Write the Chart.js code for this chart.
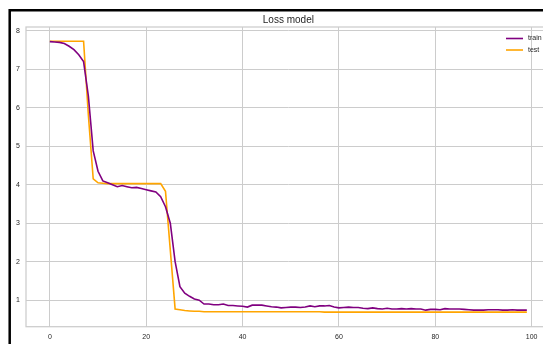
<!DOCTYPE html>
<html>
<head>
<meta charset="utf-8">
<style>
  html, body { margin: 0; padding: 0; background: #ffffff; overflow: hidden; width: 543px; height: 344px; }
  #wrap { position: absolute; left: 0; top: 0; width: 570px; height: 360px; }
</style>
<script src="https://cdn.jsdelivr.net/npm/chart.js@4/dist/chart.umd.min.js"></script>
</head>
<body>
<div id="wrap"><canvas id="c" width="570" height="360"></canvas></div>
<script>
// Epoch index for every recorded loss value
const epochs = [
  0, 1, 2, 3, 4, 5, 6, 7, 8, 9, 10, 11, 12, 13, 14, 15, 16, 17, 18, 19,
  20, 21, 22, 23, 24, 25, 26, 27, 28, 29, 30, 31, 32, 33, 34, 35, 36, 37, 38, 39,
  40, 41, 42, 43, 44, 45, 46, 47, 48, 49, 50, 51, 52, 53, 54, 55, 56, 57, 58, 59,
  60, 61, 62, 63, 64, 65, 66, 67, 68, 69, 70, 71, 72, 73, 74, 75, 76, 77, 78, 79,
  80, 81, 82, 83, 84, 85, 86, 87, 88, 89, 90, 91, 92, 93, 94, 95, 96, 97, 98, 99
];

// Training loss per epoch
const trainLoss = [
  7.72, 7.71, 7.70, 7.67, 7.60, 7.51, 7.38, 7.20, 6.30, 4.88,
  4.35, 4.10, 4.05, 4.00, 3.95, 3.98, 3.95, 3.92, 3.93, 3.90,
  3.87, 3.84, 3.81, 3.69, 3.43, 3.00, 2.00, 1.35, 1.18, 1.10,
  1.03, 1.00, 0.90, 0.90, 0.88, 0.88, 0.90, 0.86, 0.86, 0.85,
  0.84, 0.82, 0.87, 0.87, 0.87, 0.85, 0.83, 0.82, 0.80, 0.81,
  0.82, 0.82, 0.81, 0.82, 0.85, 0.83, 0.85, 0.85, 0.86, 0.82,
  0.80, 0.81, 0.82, 0.81, 0.81, 0.79, 0.78, 0.80, 0.78, 0.77,
  0.79, 0.77, 0.77, 0.78, 0.77, 0.78, 0.77, 0.77, 0.74, 0.76,
  0.76, 0.75, 0.78, 0.77, 0.77, 0.77, 0.76, 0.75, 0.74, 0.74,
  0.74, 0.75, 0.75, 0.75, 0.74, 0.74, 0.75, 0.74, 0.74, 0.74
];

// Validation loss per epoch
const testLoss = [
  7.73, 7.73, 7.73, 7.73, 7.73, 7.73, 7.73, 7.73, 5.80, 4.15,
  4.05, 4.04, 4.03, 4.03, 4.03, 4.03, 4.03, 4.03, 4.03, 4.03,
  4.03, 4.03, 4.03, 4.03, 3.83, 2.30, 0.77, 0.75, 0.73, 0.72,
  0.71, 0.71, 0.70, 0.70, 0.70, 0.70, 0.70, 0.70, 0.70, 0.70,
  0.70, 0.70, 0.70, 0.70, 0.70, 0.70, 0.70, 0.70, 0.70, 0.70,
  0.70, 0.70, 0.70, 0.70, 0.70, 0.70, 0.70, 0.69, 0.69, 0.69,
  0.69, 0.69, 0.69, 0.69, 0.69, 0.69, 0.69, 0.69, 0.69, 0.69,
  0.69, 0.69, 0.69, 0.69, 0.69, 0.69, 0.69, 0.69, 0.69, 0.69,
  0.69, 0.69, 0.69, 0.69, 0.69, 0.69, 0.69, 0.69, 0.69, 0.69,
  0.69, 0.69, 0.69, 0.69, 0.69, 0.69, 0.69, 0.69, 0.69, 0.69
];

const xTicks = [0, 20, 40, 60, 80, 100];
const yTicks = [1, 2, 3, 4, 5, 6, 7, 8];
const seriesNames = ['train', 'test'];
const titleText = 'Loss model';

const FONT = "'Liberation Sans', Arial, sans-serif";
const GRID = '#cccccc';
const TEXT = '#262626';
const COLORS = ['#800080', '#ffa500'];

const toPoints = vals => epochs.map((e, i) => ({ x: e, y: vals[i] }));

// Title, spines, legend and the outer figure frame
const decor = {
  id: 'decor',
  afterDraw(chart) {
    const { ctx, chartArea: a } = chart;
    ctx.save();
    // axes spines
    ctx.strokeStyle = GRID;
    ctx.lineWidth = 1.25;
    ctx.strokeRect(a.left, a.top, a.right - a.left, a.bottom - a.top);

    // title
    ctx.fillStyle = TEXT;
    ctx.font = '10px ' + FONT;
    ctx.textAlign = 'center';
    ctx.textBaseline = 'middle';
    ctx.fillText(titleText, (a.left + a.right) / 2, 20);

    // legend
    ctx.font = '7px ' + FONT;
    ctx.textAlign = 'left';
    chart.data.datasets.forEach((ds, i) => {
      const y = 38.5 + i * 11.5;
      ctx.strokeStyle = ds.borderColor;
      ctx.lineWidth = 1.6;
      ctx.beginPath();
      ctx.moveTo(506, y);
      ctx.lineTo(523, y);
      ctx.stroke();
      ctx.fillStyle = TEXT;
      ctx.fillText(ds.label, 528, y);
    });

    // figure frame
    ctx.strokeStyle = '#000000';
    ctx.lineWidth = 2.5;
    ctx.beginPath();
    ctx.moveTo(9.7, 400);
    ctx.lineTo(9.7, 10.3);
    ctx.lineTo(600, 10.3);
    ctx.stroke();
    ctx.restore();
  }
};

new Chart(document.getElementById('c'), {
  type: 'line',
  data: {
    datasets: [
      { label: seriesNames[0], data: toPoints(trainLoss), borderColor: COLORS[0], borderWidth: 1.6, pointRadius: 0, tension: 0, fill: false },
      { label: seriesNames[1], data: toPoints(testLoss), borderColor: COLORS[1], borderWidth: 1.6, pointRadius: 0, tension: 0, fill: false }
    ]
  },
  options: {
    responsive: false,
    animation: false,
    devicePixelRatio: 1,
    layout: { padding: { top: 27, right: 19.3, left: 0, bottom: 0 } },
    plugins: {
      legend: { display: false },
      title: { display: false },
      tooltip: { enabled: false }
    },
    scales: {
      x: {
        type: 'linear',
        min: -4.95,
        max: 103.95,
        afterBuildTicks: s => { s.ticks = xTicks.map(v => ({ value: v })); },
        afterFit: s => { s.height = 33.3; },
        grid: { color: GRID, lineWidth: 1, drawTicks: false },
        border: { display: false },
        ticks: { font: { size: 7, family: FONT }, color: TEXT, padding: 6, maxRotation: 0, autoSkip: false }
      },
      y: {
        type: 'linear',
        min: 0.31,
        max: 8.1,
        afterBuildTicks: s => { s.ticks = yTicks.map(v => ({ value: v })); },
        afterFit: s => { s.width = 26; },
        grid: { color: GRID, lineWidth: 1, drawTicks: false },
        border: { display: false },
        ticks: { font: { size: 7, family: FONT }, color: TEXT, padding: 6, autoSkip: false }
      }
    }
  },
  plugins: [decor]
});
</script>
</body>
</html>
